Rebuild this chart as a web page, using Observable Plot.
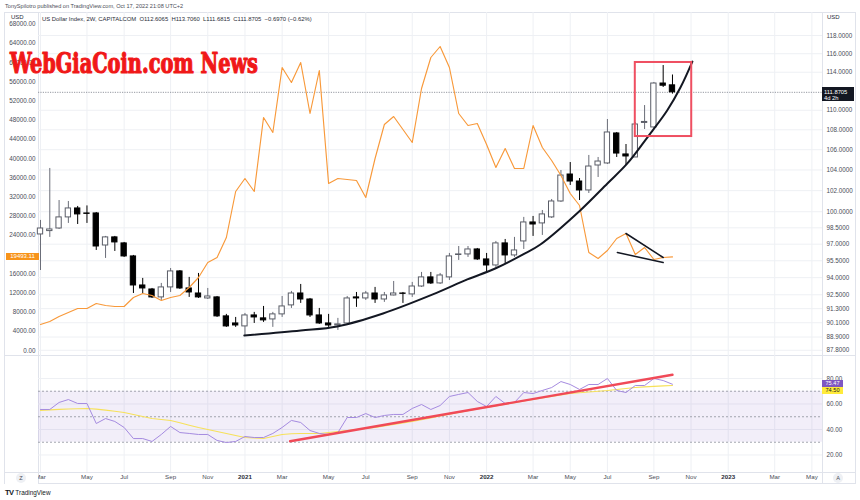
<!DOCTYPE html>
<html><head><meta charset="utf-8">
<script src="https://cdn.jsdelivr.net/npm/d3@7"></script>
<script src="https://cdn.jsdelivr.net/npm/@observablehq/plot@0.6"></script>
<style>
body{margin:0;background:#fff;font-family:"Liberation Sans",Arial,sans-serif;}
#wrap{position:relative;width:860px;height:500px;overflow:hidden;background:#fff;}
#wrap div{box-sizing:border-box;}
</style></head>
<body><div id="wrap"></div>
<script>
// ---------- DATA ----------
const dates = ["2020-03-02","2020-03-16","2020-03-30","2020-04-13","2020-04-27","2020-05-11","2020-05-25","2020-06-08","2020-06-22","2020-07-06","2020-07-20","2020-08-03","2020-08-17","2020-08-31","2020-09-14","2020-09-28","2020-10-12","2020-10-26","2020-11-09","2020-11-23","2020-12-07","2020-12-21","2021-01-04","2021-01-18","2021-02-01","2021-02-15","2021-03-01","2021-03-15","2021-03-29","2021-04-12","2021-04-26","2021-05-10","2021-05-24","2021-06-07","2021-06-21","2021-07-05","2021-07-19","2021-08-02","2021-08-16","2021-08-30","2021-09-13","2021-09-27","2021-10-11","2021-10-25","2021-11-08","2021-11-22","2021-12-06","2021-12-20","2022-01-03","2022-01-17","2022-01-31","2022-02-14","2022-02-28","2022-03-14","2022-03-28","2022-04-11","2022-04-25","2022-05-09","2022-05-23","2022-06-06","2022-06-20","2022-07-04","2022-07-18","2022-08-01","2022-08-15","2022-08-29","2022-09-12","2022-09-26","2022-10-10"];
const open = [97.89,98.20,98.44,99.47,100.31,99.84,99.84,96.88,97.62,97.07,
95.89,93.31,92.96,92.27,93.14,94.55,93.05,92.61,92.18,92.27,
90.64,90.04,89.79,90.72,90.47,90.38,90.81,91.58,92.61,92.09,
90.72,90.04,89.87,90.04,92.27,92.18,92.61,92.09,92.44,92.61,
92.53,93.22,94.02,93.49,94.02,96.02,96.07,96.52,95.62,95.08,
97.07,95.98,97.25,99.00,98.91,99.47,100.97,103.56,102.88,102.02,
104.44,104.64,107.63,105.53,105.23,108.70,108.24,112.80,112.6065];
const high = [99.19,104.15,101.06,100.97,100.50,100.55,99.93,97.71,97.71,97.16,
95.98,93.93,93.05,93.49,94.81,94.63,94.02,94.37,93.05,92.35,
90.81,90.55,90.89,90.98,91.49,90.98,92.35,92.79,93.40,92.18,
91.32,90.81,90.47,92.35,92.70,92.79,93.14,92.70,93.66,92.70,
93.58,94.46,94.46,94.37,96.16,96.79,96.79,96.61,96.16,97.25,
97.43,97.62,99.47,99.56,100.12,101.16,103.95,104.73,103.17,105.43,
105.23,109.05,107.73,106.52,108.74,110.49,112.91,114.72,113.7060];
const low = [94.63,97.62,98.35,98.91,98.81,98.91,96.43,95.71,96.34,95.80,
92.61,92.61,92.18,92.01,92.70,92.96,92.27,92.18,92.09,90.55,
89.71,89.71,89.03,90.04,90.13,89.71,90.55,91.32,91.75,90.55,
89.96,89.71,89.45,89.87,91.41,92.01,91.75,91.84,92.40,91.75,
92.27,93.14,93.40,93.40,93.75,95.53,95.80,95.53,94.46,94.90,
95.26,95.80,96.52,97.71,97.80,99.37,100.88,102.50,101.06,101.73,
103.27,104.54,105.23,104.44,105.23,108.03,108.10,112.38,111.6815];
const close = [98.44,98.35,99.47,100.31,99.75,99.80,96.79,97.62,97.16,95.89,
93.31,93.05,92.27,93.14,94.55,93.05,92.70,92.27,92.35,90.64,
89.79,89.87,90.72,90.55,90.30,90.81,91.49,92.61,92.09,90.72,
90.04,89.87,89.96,92.18,92.18,92.61,92.09,92.44,92.61,92.58,
93.22,94.02,93.49,94.19,95.89,96.07,96.52,95.62,95.08,97.07,
95.98,96.43,99.00,98.81,99.75,100.97,103.46,102.88,102.02,104.34,
104.83,107.73,105.62,105.33,108.54,108.80,112.80,112.5675,111.8705];
const btc = [5417,6040,7083,7917,8750,8750,9790,9375,9170,9170,
11040,11875,11460,10420,11040,11460,13125,15208,18333,19375,
23540,33125,35833,33125,48542,45417,58958,55833,60000,49375,
58333,34792,35833,35625,35417,31875,40000,47083,48750,46042,
43333,54583,61042,63333,58958,49375,46875,47292,42917,38125,
42083,37917,37917,46875,42292,39583,36458,32708,30208,20417,
19167,20833,23333,24375,20000,21458,18958,19375,19493.11];
const rsi = [55.7,55.7,61.2,63.5,60.4,60.4,44.7,48.6,46.3,41.6,
32.9,32.9,30.6,36.1,42.4,37.6,36.9,36.1,36.1,31.4,
29.8,30.6,34.5,33.7,33.7,36.9,41.6,47.1,45.5,39.2,
36.9,36.1,37.6,49.4,49.4,52.5,49.4,51.0,51.8,51.8,
56.5,59.6,55.7,58.8,65.9,67.5,69.0,62.0,58.0,65.9,
60.4,61.2,69.0,68.2,70.6,72.9,77.6,75.3,71.4,75.3,
75.3,80.0,70.6,69.0,74.5,74.5,80.0,78.4,75.47];
const rsiMA = [55.0,55.4,55.8,56.1,56.3,56.5,56.0,55.2,54.3,53.3,
51.8,50.2,48.6,47.9,47.1,45.3,43.4,41.6,40.0,38.4,
36.9,35.3,33.7,33.3,32.9,34.5,36.1,36.7,36.9,36.9,
36.9,37.6,38.4,39.2,40.0,40.9,41.6,42.8,44.0,45.2,
46.4,47.7,49.0,50.7,52.0,53.4,54.8,56.1,57.3,58.5,
59.8,61.1,62.3,63.5,64.8,66.0,67.1,68.2,68.8,69.4,
70.0,70.6,71.4,72.1,72.9,73.4,73.8,74.2,74.50];

// axes (labels hidden behind price tags in the reference are left out)
const dxyTicks = [87.8,88.9,90.1,91.3,92.5,94,95.5,97,98.5,100,102,104,106,108,110,114,116,118];
const btcTicks = [0,4000,8000,12000,16000,24000,28000,32000,36000,40000,44000,48000,52000,56000,60000,64000,68000];
const rsiTicks = [20,40,60,80];
const rsiBands = [70,50,30];
const monthTickDates = ["2020-03-02","2020-05-11","2020-07-06","2020-09-14","2020-11-09","2021-03-01","2021-05-10","2021-07-05","2021-09-13","2021-11-08","2022-03-14","2022-05-09","2022-07-04","2022-09-12","2022-11-07","2023-03-13","2023-05-08"];
const monthTickLabels = ["Mar","May","Jul","Sep","Nov","Mar","May","Jul","Sep","Nov","Mar","May","Jul","Sep","Nov","Mar","May"];
const yearTickDates = ["2021-01-04","2022-01-03","2023-01-02"];
const yearTickLabels = ["2021","2022","2023"];

// drawings (in chart coordinates)
const arcDates = ["2021-01-03","2021-03-29","2021-05-23","2021-07-31","2021-10-14","2021-12-05","2022-01-16","2022-02-27","2022-03-25","2022-05-24","2022-07-04","2022-08-03","2022-09-02","2022-10-02","2022-10-22","2022-11-09"];
const arcPrices = [89.03,89.45,89.79,90.89,92.53,93.84,94.81,96.07,96.97,100.12,102.69,104.64,107.22,109.98,112.38,115.15];
const boxDates = ["2022-08-15","2022-11-08"];
const boxPrices = [107.32,115.05];
const wedgeUpper = {dates:["2022-08-01","2022-09-26"], values:[24375,19375]};
const wedgeLower = {dates:["2022-07-19","2022-09-26"], values:[20417,18333]};
const rsiTrend = {dates:["2021-03-13","2022-10-10"], values:[30.8,82.9]};
const xDomain = ["2020-02-28","2023-05-24"];

// ---------- BUILD ----------
const W = 860;
const FONT = "Liberation Sans, Arial, sans-serif";
const wrap = document.getElementById("wrap");
const D = s => new Date(s + "T00:00:00Z");
const xDom = xDomain.map(D);
const n = dates.length - 1;
const candles = dates.map((d,i)=>({date:D(d), open:open[i], high:high[i], low:low[i], close:close[i]}));
const ups = candles.filter(c=>c.close>=c.open), downs = candles.filter(c=>c.close<c.open);
const btcData = dates.map((d,i)=>({date:D(d), v:btc[i]}));
const rsiData = dates.map((d,i)=>({date:D(d), v:rsi[i]}));
const maData = dates.map((d,i)=>({date:D(d), v:rsiMA[i]}));
const arc = arcDates.map((d,i)=>({date:D(d), v:arcPrices[i]}));
const gridX = monthTickDates.concat(yearTickDates).map(D);
const hw = 96; // half candle width in hours
const GRID = "#eef0f4";

function layer(node, top, z){
  const d=document.createElement("div");
  d.style.cssText=`position:absolute;left:0;top:${top}px;width:${W}px;z-index:${z};`;
  d.appendChild(node); wrap.appendChild(d); return d;
}
function box(css, html){
  const d=document.createElement("div");
  d.style.cssText="position:absolute;white-space:nowrap;"+css;
  if(html!=null) d.innerHTML=html;
  wrap.appendChild(d); return d;
}
function scaleFn(p, name){
  const s=p.scale(name);
  if(s && typeof s.apply==="function") return v=>s.apply(v);
  const t=Plot.scale({[name]:s}); return v=>t.apply(v);
}

// frame lines
const LINE="#e0e3eb";
box(`left:4px;top:12px;width:852px;height:472px;border:1px solid ${LINE};z-index:0`);
box(`left:38px;top:12px;width:1px;height:472px;background:${LINE};z-index:0`);
box(`left:822px;top:12px;width:1px;height:472px;background:${LINE};z-index:0`);
box(`left:4px;top:355px;width:852px;height:1px;background:${LINE};z-index:0`);
box(`left:4px;top:472px;width:852px;height:1px;background:${LINE};z-index:0`);

const common = {width:W, marginLeft:38, marginRight:38, marginTop:0};
const MAIN_H = 343;

// DXY base layer
const dxy = Plot.plot({
  ...common, height:MAIN_H, marginBottom:0,
  style:{background:"transparent", fontFamily:FONT, fontSize:"6.3px", color:"#4a4d57", overflow:"visible"},
  x:{type:"utc", domain:xDom, axis:null},
  y:{type:"log", domain:[87.37,120.58], axis:"right", ticks:dxyTicks, tickFormat:d3.format(".4f"), tickSize:0, tickPadding:4, label:null},
  marks:[
    Plot.ruleX(gridX, {stroke:GRID}),
    Plot.ruleY(dxyTicks, {stroke:GRID}),
    Plot.ruleY([close[n]], {stroke:"#9598a1", strokeDasharray:"1.2,1.2"}),
    Plot.ruleX(ups, {x:"date", y1:"low", y2:"high", stroke:"#6a6d78"}),
    Plot.ruleX(downs, {x:"date", y1:"low", y2:"high", stroke:"#000"}),
    Plot.rect(ups, {x1:d=>d3.utcHour.offset(d.date,-hw), x2:d=>d3.utcHour.offset(d.date,hw), y1:"open", y2:"close", fill:"#fff", stroke:"#5a5d67"}),
    Plot.rect(downs, {x1:d=>d3.utcHour.offset(d.date,-hw), x2:d=>d3.utcHour.offset(d.date,hw), y1:"open", y2:"close", fill:"#000", stroke:"#000"})
  ]
});
layer(dxy, 12, 1);

// BTC overlay layer
const btcPlot = Plot.plot({
  ...common, height:MAIN_H, marginBottom:0,
  style:{background:"transparent", fontFamily:FONT, fontSize:"6.3px", color:"#4a4d57", overflow:"visible"},
  x:{type:"utc", domain:xDom, axis:null},
  y:{domain:[-1042,70417], axis:"left", ticks:btcTicks, tickFormat:d3.format(".2f"), tickSize:0, tickPadding:3, label:null},
  marks:[
    Plot.line(btcData, {x:"date", y:"v", stroke:"#f8993a", strokeWidth:1.15}),
    Plot.line(wedgeUpper.dates.map((d,i)=>({date:D(d), v:wedgeUpper.values[i]})), {x:"date", y:"v", stroke:"#131722", strokeWidth:1.5}),
    Plot.line(wedgeLower.dates.map((d,i)=>({date:D(d), v:wedgeLower.values[i]})), {x:"date", y:"v", stroke:"#131722", strokeWidth:1.5})
  ]
});
layer(btcPlot, 12, 2);

// drawings on DXY scale
const drawPlot = Plot.plot({
  ...common, height:MAIN_H, marginBottom:0,
  style:{background:"transparent", overflow:"visible"},
  x:{type:"utc", domain:xDom, axis:null},
  y:{type:"log", domain:[87.37,120.58], axis:null},
  marks:[
    Plot.line(arc, {x:"date", y:"v", curve:"catmull-rom", stroke:"#131722", strokeWidth:2}),
    Plot.rect([0], {x1:()=>D(boxDates[0]), x2:()=>D(boxDates[1]), y1:()=>boxPrices[0], y2:()=>boxPrices[1], fill:"none", stroke:"#ef4f61", strokeWidth:2})
  ]
});
layer(drawPlot, 12, 3);

// RSI pane
const rsiPlot = Plot.plot({
  ...common, height:131, marginBottom:14,
  style:{background:"transparent", fontFamily:FONT, fontSize:"6.3px", color:"#4a4d57", overflow:"visible"},
  x:{type:"utc", domain:xDom, axis:null},
  y:{domain:[6.27,98.04], axis:"right", ticks:rsiTicks, tickFormat:d3.format(".2f"), tickSize:0, tickPadding:4, label:null},
  marks:[
    Plot.ruleX(gridX, {stroke:GRID}),
    Plot.ruleY(rsiTicks, {stroke:GRID}),
    Plot.rect([0], {x1:()=>xDom[0], x2:()=>xDom[1], y1:()=>rsiBands[2], y2:()=>rsiBands[0], fill:"#7e57c2", fillOpacity:0.1}),
    Plot.ruleY(rsiBands, {stroke:"#9a9ca6", strokeDasharray:"2,2", strokeWidth:0.9}),
    Plot.line(maData, {x:"date", y:"v", stroke:"#f6e15a", strokeWidth:1.1}),
    Plot.line(rsiData, {x:"date", y:"v", stroke:"#a58be0", strokeWidth:1}),
    Plot.line(rsiTrend.dates.map((d,i)=>({date:D(d), v:rsiTrend.values[i]})), {x:"date", y:"v", stroke:"#f04a58", strokeWidth:2.4}),
    Plot.text(monthTickDates.map(D), {x:d=>d, text:(d,i)=>monthTickLabels[i], frameAnchor:"bottom", dy:6, fontSize:6.2, fill:"#4a4d57"}),
    Plot.text(yearTickDates.map(D), {x:d=>d, text:(d,i)=>yearTickLabels[i], frameAnchor:"bottom", dy:6, fontSize:6.2, fontWeight:"bold", fill:"#2a2e39"})
  ]
});
layer(rsiPlot, 355, 1);

// ---------- LABELS ----------
const f4 = d3.format(".4f");
const chg = close[n]-close[n-1], pct = chg/close[n-1]*100;
box(`left:5px;top:3px;font-size:5.6px;color:#4a4d57;z-index:6`, "TonySpilotro published on TradingView.com, Oct 17, 2022 21:08 UTC+2");
box(`left:42px;top:16px;font-size:5.9px;color:#2a2e39;z-index:6`,
  `US Dollar Index, 2W, CAPITALCOM&nbsp; O${f4(open[n])}&nbsp; H${f4(high[n])}&nbsp; L${f4(low[n])}&nbsp; C${f4(close[n])}&nbsp; ${"\u2212"+Math.abs(chg).toFixed(4)} (${"\u2212"+Math.abs(pct).toFixed(2)}%)`);
box(`left:9px;top:14px;font-size:6px;color:#2a2e39;background:#fff;padding:0 2px;line-height:7px;z-index:6`, "USD");
box(`left:825px;top:14px;font-size:6px;color:#2a2e39;background:#fff;padding:0 2px;line-height:7px;z-index:6`, "USD");

const yD = scaleFn(dxy,"y"), yB = scaleFn(btcPlot,"y"), yR = scaleFn(rsiPlot,"y");
const pyD = 12 + yD(close[n]);
box(`left:822px;top:${pyD-4.5}px;width:32px;height:14px;background:#131722;color:#fff;font-size:5.8px;line-height:6px;padding:1.5px 0 0 2px;z-index:7`,
  `${f4(close[n])}<br>4d 2h`);
const pyB = 12 + yB(btc[n]);
box(`left:6px;top:${pyB-3.8}px;width:33px;height:7.6px;background:#f7931a;color:#fff;font-size:6px;line-height:7.6px;text-align:center;z-index:7`,
  d3.format(".2f")(btc[n]));
const pyR = 355 + yR(rsi[n]);
box(`left:822px;top:${pyR-3.5}px;width:21px;height:7px;background:#7e57c2;color:#fff;font-size:5.6px;line-height:7px;text-align:center;z-index:7`,
  d3.format(".2f")(rsi[n]));
box(`left:822px;top:${pyR+3.6}px;width:21px;height:7px;background:#ffeb3b;color:#131722;font-size:5.6px;line-height:7px;text-align:center;z-index:7`,
  d3.format(".2f")(rsiMA[n]));

// axis row chrome
box(`left:5px;top:473px;width:33px;height:11px;background:#fff;z-index:5`);
box(`left:16px;top:473px;width:10px;height:10px;border-radius:5px;background:#eef0f4;color:#4a4d57;font-size:5.6px;line-height:10px;text-align:center;z-index:6`, "Z");
box(`left:833px;top:473px;width:10px;height:10px;border-radius:5px;background:#eef0f4;color:#4a4d57;font-size:5.6px;line-height:10px;text-align:center;z-index:6`, "A");
box(`left:5px;top:488px;font-size:7px;color:#131722;z-index:6`, `<b style="letter-spacing:-0.6px;font-size:7.5px">TV</b> <span style="font-size:6.4px">TradingView</span>`);

// watermark
const wm = document.createElementNS("http://www.w3.org/2000/svg","svg");
wm.setAttribute("width",W); wm.setAttribute("height",90);
wm.style.cssText="position:absolute;left:0;top:0;z-index:8;overflow:visible";
wm.innerHTML = `<text x="10" y="72.5" font-family="DejaVu Serif Condensed, DejaVu Serif, serif" font-weight="bold" font-size="27" fill="#f01818" stroke="#f01818" stroke-width="1.1" stroke-linejoin="round" textLength="248" lengthAdjust="spacingAndGlyphs">WebGiaCoin.com News</text>`;
wrap.appendChild(wm);
</script>
</body></html>
